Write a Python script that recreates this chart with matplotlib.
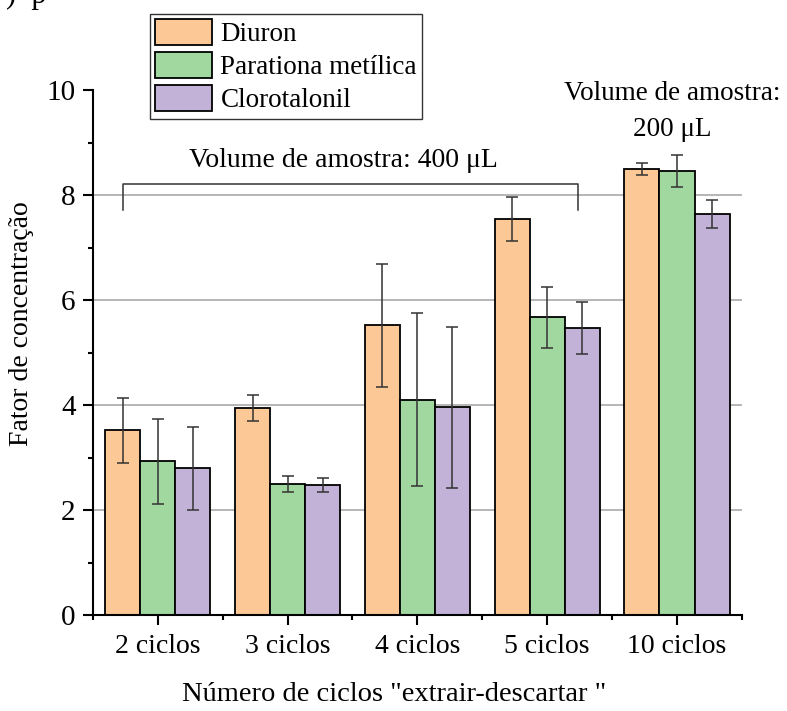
# Fator de concentração vs número de ciclos "extrair-descartar"
import matplotlib
matplotlib.use('Agg')
import matplotlib.pyplot as plt
import numpy as np
from matplotlib.ticker import MultipleLocator

plt.rcParams['font.family'] = ['Liberation Serif', 'DejaVu Serif']

# data
categories = ['2 ciclos', '3 ciclos', '4 ciclos', '5 ciclos', '10 ciclos']
series_names = ['Diuron', 'Parationa metílica', 'Clorotalonil']
diuron = [3.52, 3.94, 5.52, 7.55, 8.50]
diuron_err = [0.62, 0.25, 1.17, 0.42, 0.12]
parationa = [2.93, 2.50, 4.10, 5.67, 8.46]
parationa_err = [0.81, 0.15, 1.65, 0.58, 0.30]
clorotalonil = [2.80, 2.48, 3.96, 5.47, 7.64]
clorotalonil_err = [0.79, 0.14, 1.53, 0.50, 0.26]

colors = ['#FCC896', '#A0D8A0', '#C2B2D7']
grid_levels = [2, 4, 6, 8]

fig = plt.figure(figsize=(7.87, 7.11), dpi=100)
ax = fig.add_axes([0.118, 0.135, 0.8247, 0.738])

x = np.arange(len(categories))
width = 0.27
offsets = [-width, 0, width]
values = [diuron, parationa, clorotalonil]
errors = [diuron_err, parationa_err, clorotalonil_err]

for lvl in grid_levels:
    ax.axhline(lvl, color='#b0b0b0', linewidth=1.3, zorder=0)

for off, vals, errs, col, name in zip(offsets, values, errors, colors, series_names):
    ax.bar(x + off, vals, width, color=col, edgecolor='black', linewidth=1.3,
           label=name, zorder=2)
    ax.errorbar(x + off, vals, yerr=errs, fmt='none', ecolor='#333333',
                elinewidth=1.1, capsize=4, capthick=1.1, zorder=3)

# bracket over the 400 uL groups
bx0, bx1, by_low, by_high = -0.27, 3.24, 7.71, 8.21
ax.plot([bx0, bx0, bx1, bx1], [by_low, by_high, by_high, by_low],
        color='#333333', linewidth=1.1, zorder=3)
ax.text(1.43, 8.67, 'Volume de amostra: 400 μL', ha='center', va='center',
        fontsize=20)
ax.text(3.96, 9.6, 'Volume de amostra:\n200 μL', ha='center', va='center',
        fontsize=19.5, linespacing=1.6)

ax.set_xlim(-0.5, len(categories) - 0.5)
ax.set_ylim(0, 10)
ax.set_xticks(x)
ax.set_xticklabels(categories)
ax.xaxis.set_minor_locator(MultipleLocator(1, offset=0.5))
ax.yaxis.set_major_locator(MultipleLocator(2))
ax.yaxis.set_minor_locator(MultipleLocator(1))

for side in ['top', 'right']:
    ax.spines[side].set_visible(False)
for side in ['left', 'bottom']:
    ax.spines[side].set_linewidth(1.5)

ax.tick_params(axis='both', which='major', direction='out', length=7, width=1.5)
ax.tick_params(axis='both', which='minor', direction='out', length=3.6, width=1.5)
ax.tick_params(axis='y', labelsize=21, pad=5.5)
ax.tick_params(axis='x', labelsize=20, pad=6.5)

ax.set_ylabel('Fator de concentração', fontsize=20)
ax.yaxis.set_label_coords(-0.09, 0.555)
ax.set_xlabel('Número de ciclos "extrair-descartar "', fontsize=20.5)
ax.xaxis.set_label_coords(0.464, -0.128)

ax.legend(loc='upper left', bbox_to_anchor=(150 / 787, 1 - 14 / 711),
          bbox_transform=fig.transFigure, fontsize=19.5, frameon=True,
          fancybox=False, edgecolor='#333333', framealpha=1,
          handlelength=2.1, handleheight=1.08, labelspacing=0.18,
          handletextpad=0.3, borderpad=0.2, borderaxespad=0)

# fragment of cropped text at the top left
fig.text(0.008, 1 - 3 / 711, ')  p', fontsize=22, va='baseline', ha='left')

fig.savefig('out.png', dpi=100)
